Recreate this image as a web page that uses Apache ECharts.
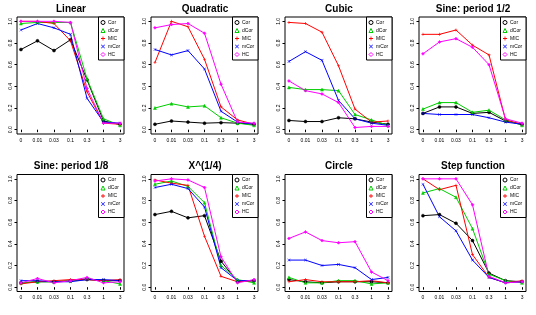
<!DOCTYPE html>
<html><head><meta charset="utf-8">
<script src="https://cdn.jsdelivr.net/npm/echarts@6/dist/echarts.min.js"></script>
<style>html,body{margin:0;padding:0;background:#fff}#c{width:536px;height:315px}</style>
</head><body><div id="c"></div>
<script>
const categories = ['0','0.01','0.03','0.1','0.3','1','3'];
const yTicks = [0,0.2,0.4,0.6,0.8,1.0];
const titles = ['Linear','Quadratic','Cubic','Sine: period 1/2','Sine: period 1/8','X^(1/4)','Circle','Step function'];
const seriesNames = ['Cor','dCor','MIC','mCor','HC'];
// rows: Cor, dCor, MIC, mCor, HC
const linearVals = [
  [0.74,0.82,0.73,0.83,0.46,0.08,0.05],
  [0.98,0.99,0.99,0.99,0.47,0.10,0.04],
  [1.00,1.00,0.98,0.82,0.35,0.06,0.05],
  [0.92,0.98,0.94,0.88,0.29,0.07,0.06],
  [1.00,1.00,1.00,0.99,0.38,0.06,0.06]];
const quadraticVals = [
  [0.05,0.08,0.07,0.06,0.065,0.06,0.05],
  [0.20,0.24,0.21,0.22,0.11,0.06,0.04],
  [0.62,1.00,0.95,0.65,0.21,0.09,0.05],
  [0.74,0.69,0.73,0.56,0.17,0.07,0.05],
  [0.94,0.97,0.98,0.89,0.42,0.07,0.06]];
const cubicVals = [
  [0.085,0.075,0.075,0.11,0.10,0.07,0.05],
  [0.39,0.37,0.37,0.36,0.14,0.09,0.04],
  [0.99,0.98,0.90,0.59,0.19,0.07,0.08],
  [0.63,0.72,0.64,0.27,0.10,0.06,0.04],
  [0.45,0.36,0.33,0.25,0.02,0.03,0.03]];
const sineHalfVals = [
  [0.15,0.21,0.21,0.15,0.16,0.08,0.05],
  [0.19,0.25,0.25,0.16,0.18,0.09,0.04],
  [0.88,0.88,0.92,0.78,0.69,0.09,0.05],
  [0.15,0.14,0.14,0.14,0.11,0.07,0.05],
  [0.70,0.81,0.84,0.76,0.60,0.10,0.06]];
const sineEighthVals = [
  [0.04,0.05,0.05,0.06,0.07,0.06,0.06],
  [0.04,0.05,0.05,0.06,0.08,0.06,0.03],
  [0.03,0.05,0.06,0.07,0.07,0.06,0.07],
  [0.06,0.06,0.05,0.05,0.07,0.07,0.06],
  [0.04,0.08,0.04,0.06,0.09,0.04,0.05]];
const quarterVals = [
  [0.67,0.70,0.64,0.66,0.24,0.05,0.06],
  [0.95,0.98,0.93,0.78,0.20,0.07,0.04],
  [0.99,0.96,0.94,0.47,0.10,0.05,0.06],
  [0.92,0.95,0.91,0.74,0.18,0.06,0.06],
  [0.98,1.00,0.99,0.92,0.28,0.04,0.07]];
const circleVals = [
  [0.07,0.05,0.04,0.05,0.05,0.05,0.04],
  [0.09,0.04,0.04,0.06,0.06,0.03,0.04],
  [0.05,0.07,0.05,0.05,0.05,0.06,0.04],
  [0.25,0.25,0.20,0.21,0.18,0.07,0.09],
  [0.45,0.51,0.43,0.41,0.42,0.14,0.06]];
const stepVals = [
  [0.66,0.67,0.59,0.43,0.13,0.06,0.05],
  [0.87,0.91,0.83,0.54,0.12,0.06,0.04],
  [1.00,0.90,0.94,0.30,0.09,0.04,0.06],
  [0.95,0.65,0.52,0.25,0.09,0.04,0.05],
  [1.00,1.00,1.00,0.76,0.10,0.04,0.05]];
const panels = [linearVals,quadraticVals,cubicVals,sineHalfVals,sineEighthVals,quarterVals,circleVals,stepVals];

const colors = ['#000000','#00CD00','#FF0000','#0000FF','#FF00FF'];
const PLUS = 'path://M4,0H6V4H10V6H6V10H4V6H0V4H4Z';
const CROSS = 'path://M1,0L5,4L9,0L10,1L6,5L10,9L9,10L5,6L1,10L0,9L4,5L0,1Z';
const symbols = ['circle','triangle',PLUS,CROSS,'diamond'];
const openSym = [true,true,false,false,true];
const FONT = '"Liberation Sans", Arial, sans-serif';

const PW = 134, PH = 157.5, FL = 17, FT = 17, FW = 107, FH = 117;
const grid=[], xAxis=[], yAxis=[], series=[], title=[], legend=[];
panels.forEach((vals, p) => {
  const c = p % 4, r = Math.floor(p / 4);
  const ox = c * PW, oy = r * PH;
  grid.push({left: ox + FL, top: oy + FT, width: FW, height: FH, show: true, borderColor: '#000', borderWidth: 1, backgroundColor: 'transparent', containLabel: false});
  xAxis.push({type: 'value', gridIndex: p, min: 0.76, max: 7.24,
    axisLine: {show: false}, splitLine: {show: false},
    axisTick: {show: true, customValues: [1,2,3,4,5,6,7], length: 2.5, lineStyle: {color: '#000', width: 1}},
    axisLabel: {customValues: [1,2,3,4,5,6,7], formatter: v => categories[Math.round(v) - 1], fontSize: 5, color: '#000', margin: 4, fontFamily: FONT}});
  yAxis.push({type: 'value', gridIndex: p, min: -0.04, max: 1.04,
    axisLine: {show: false}, splitLine: {show: false},
    axisTick: {show: true, customValues: yTicks, length: 2.5, lineStyle: {color: '#000', width: 1}},
    axisLabel: {customValues: yTicks, formatter: v => v.toFixed(1), rotate: 90, fontSize: 5, color: '#000', margin: 4, fontFamily: FONT}});
  title.push({text: titles[p], left: ox + 71, top: oy + 4, textAlign: 'center', padding: 0,
    textStyle: {fontSize: 10, fontWeight: 'bold', color: '#000', fontFamily: FONT, lineHeight: 10}});
  legend.push({left: ox + 98.5, top: oy + FT, orient: 'vertical', selectedMode: false,
    borderColor: '#000', borderWidth: 1, borderRadius: 0, padding: [3, 2, 3, 2], backgroundColor: '#fff',
    itemWidth: 4, itemHeight: 4, itemGap: 3,
    textStyle: {fontSize: 5, color: '#000', fontFamily: FONT, padding: [0,0,0,-2], lineHeight: 4, width: 14},
    data: seriesNames.map((n, k) => ({name: n, icon: symbols[k],
      itemStyle: openSym[k] ? {color: '#fff', borderColor: colors[k], borderWidth: 1} : {color: colors[k], borderWidth: 0}}))});
  vals.forEach((row, k) => {
    series.push({type: 'line', name: seriesNames[k], xAxisIndex: p, yAxisIndex: p,
      data: row.map((v, i) => [i + 1, v]),
      symbol: symbols[k], symbolSize: 3, showSymbol: true, animation: false,
      lineStyle: {color: colors[k], width: 1},
      itemStyle: openSym[k] ? {color: colors[k], borderColor: colors[k], borderWidth: 0.5} : {color: colors[k]},
      emphasis: {disabled: true}});
  });
});

const chart = echarts.init(document.getElementById('c'), null, {renderer: 'canvas'});
chart.setOption({animation: false, backgroundColor: '#fff', title, legend, grid, xAxis, yAxis, series});
</script></body></html>
